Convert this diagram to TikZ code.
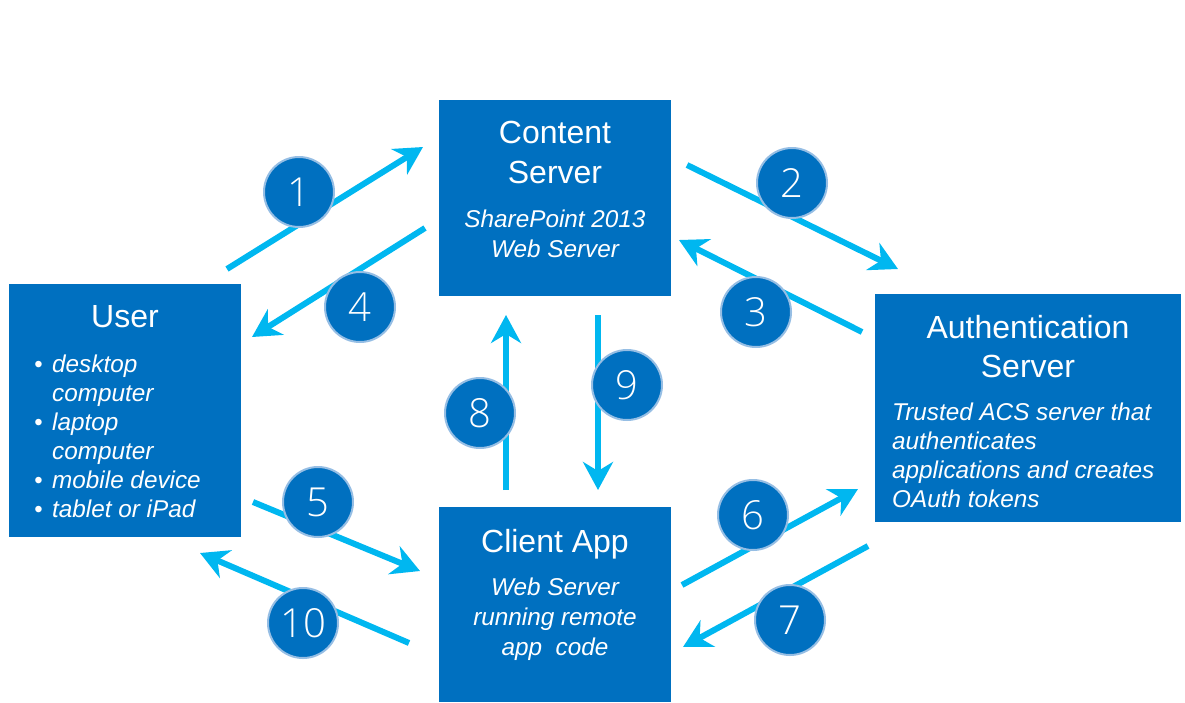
\documentclass[tikz,border=0pt]{standalone}
\usepackage{fontspec}
\setmainfont{Liberation Sans}
\newfontfamily\numfont{Open Sans Light}
\usetikzlibrary{arrows.meta}
\definecolor{boxblue}{RGB}{0,112,192}
\definecolor{arrowcyan}{RGB}{0,183,240}
\definecolor{ringblue}{RGB}{150,190,228}
\begin{document}
\begin{tikzpicture}[x=1pt,y=-1pt,
  box/.style={fill=boxblue, draw=none, inner sep=0pt, outer sep=0pt},
  title/.style={text=white, anchor=base, font=\fontsize{32}{38}\selectfont, inner sep=0pt},
  sub/.style={text=white, anchor=base, font=\fontsize{24.3}{29}\selectfont\itshape, inner sep=0pt},
  subl/.style={sub, anchor=base west},
  bul/.style={text=white, anchor=base, font=\fontsize{24}{29}\selectfont, inner sep=0pt},
  flow/.style={draw=arrowcyan, line width=6pt, -{Stealth[length=28pt,width=30pt,inset=9pt]}},
  badge/.style={circle, fill=boxblue, draw=ringblue, line width=2pt, minimum size=70pt, inner sep=0pt, text=white, font=\numfont\fontsize{40}{40}\selectfont}
]
\useasboundingbox (0,0) rectangle (1185,702);

% boxes
\node[box, minimum width=232pt, minimum height=196pt] (content) at (555,198) {};
\node[box, minimum width=232pt, minimum height=253pt] (user) at (125,410.5) {};
\node[box, minimum width=306pt, minimum height=228pt] (auth) at (1028,408) {};
\node[box, minimum width=232pt, minimum height=195pt] (client) at (555,604.5) {};

% arrow end points
\coordinate (a1s) at (227,269);  \coordinate (a1e) at (423,147);
\coordinate (a2s) at (687,165);  \coordinate (a2e) at (898,269);
\coordinate (a3s) at (862,332);  \coordinate (a3e) at (679,240);
\coordinate (a4s) at (425,228);  \coordinate (a4e) at (252,337);
\coordinate (a5s) at (253,502);  \coordinate (a5e) at (420,571);
\coordinate (a6s) at (682,585);  \coordinate (a6e) at (858,489);
\coordinate (a7s) at (868,546);  \coordinate (a7e) at (683,647);
\coordinate (a8s) at (506,490);  \coordinate (a8e) at (506,315);
\coordinate (a9s) at (598,315);  \coordinate (a9e) at (598,490);
\coordinate (a10s) at (409,643); \coordinate (a10e) at (200,553);

\foreach \i in {1,...,10} {\draw[flow] (a\i s) -- (a\i e);}

% badges
\node[badge] (b1) at (299,192) {1};
\node[badge] (b2) at (792,183) {2};
\node[badge] (b3) at (756,312) {3};
\node[badge] (b4) at (360,307) {4};
\node[badge] (b5) at (318,502) {5};
\node[badge] (b6) at (753,515) {6};
\node[badge] (b7) at (790,620) {7};
\node[badge] (b8) at (480,413) {8};
\node[badge] (b9) at (627,385) {9};
\node[badge] (b10) at (303,623) {10};

% content server text
\node[title] (ct1) at (555,143) {Content};
\node[title] (ct2) at (555,183) {Server};
\node[sub] (cs1) at (555,227) {SharePoint 2013};
\node[sub] (cs2) at (555,257) {Web Server};

% user text
\node[title] (ut1) at (125,327) {User};
\node[bul] (ub1) at (38.5,372) {\textbullet};
\node[subl] (us1) at (52,372) {desktop};
\node[subl] (us2) at (52,401) {computer};
\node[bul] (ub2) at (38.5,430) {\textbullet};
\node[subl] (us3) at (52,430) {laptop};
\node[subl] (us4) at (52,459) {computer};
\node[bul] (ub3) at (38.5,488) {\textbullet};
\node[subl] (us5) at (52,488) {mobile device};
\node[bul] (ub4) at (38.5,517) {\textbullet};
\node[subl] (us6) at (52,517) {tablet or iPad};

% authentication server text
\node[title] (at1) at (1028,338) {Authentication};
\node[title] (at2) at (1028,377) {Server};
\node[subl] (as1) at (892,420) {Trusted ACS server that};
\node[subl] (as2) at (892,449) {authenticates};
\node[subl] (as3) at (892,478) {applications and creates};
\node[subl] (as4) at (892,507) {OAuth tokens};

% client app text
\node[title] (lt1) at (555,552) {Client App};
\node[sub] (ls1) at (555,595) {Web Server};
\node[sub] (ls2) at (555,625) {running remote};
\node[sub] (ls3) at (555,655) {app\ \ code};
\end{tikzpicture}
\end{document}
